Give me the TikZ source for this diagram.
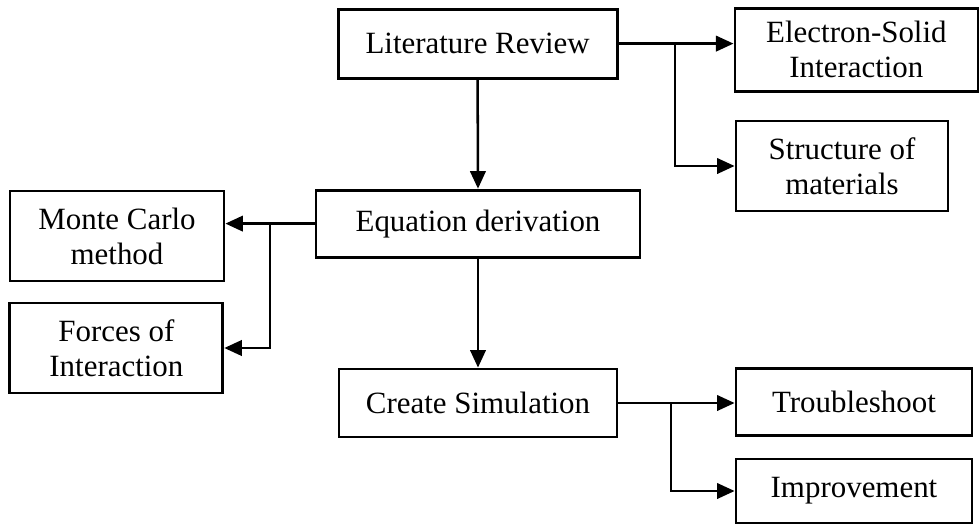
\documentclass[tikz,border=0pt]{standalone}
\usepackage{fontspec}
\setmainfont{Liberation Serif}
\usetikzlibrary{arrows.meta}
\tikzset{
	stagebox/.style={draw, line width=2pt, inner sep=0pt, align=center,
		font=\fontsize{22}{25}\selectfont},
	flowarrow/.style={line width=1.8pt, -{Triangle[length=12.5pt,width=11pt]}}
}
\begin{document}
\begin{tikzpicture}
		\useasboundingbox (0,0) rectangle (24.5,-13.125);
		\node[stagebox, minimum width=6.975cm, minimum height=1.725cm] (lit) at (11.94,-1.09) {Literature Review};
		\node[stagebox, minimum width=6.075cm, minimum height=2.075cm] (elec) at (21.41,-1.24) {Electron-Solid\\Interaction};
		\node[stagebox, minimum width=5.3cm, minimum height=2.25cm] (struct) at (21.05,-4.15) {Structure of\\materials};
		\node[stagebox, minimum width=8.1cm, minimum height=1.675cm] (eq) at (11.95,-5.59) {Equation derivation};
		\node[stagebox, minimum width=5.35cm, minimum height=2.25cm] (mc) at (2.925,-5.9) {Monte Carlo\\method};
		\node[stagebox, minimum width=5.325cm, minimum height=2.25cm] (forces) at (2.91,-8.7) {Forces of\\Interaction};
		\node[stagebox, minimum width=6.95cm, minimum height=1.7cm] (sim) at (11.95,-10.075) {Create Simulation};
		\node[stagebox, minimum width=5.9cm, minimum height=1.675cm] (trouble) at (21.35,-10.04) {Troubleshoot};
		\node[stagebox, minimum width=5.9cm, minimum height=1.6cm] (improve) at (21.35,-12.275) {Improvement};
		\coordinate (splitA) at (16.875,-1.09);
		\coordinate (splitB) at (6.75,-5.59);
		\coordinate (splitC) at (16.775,-10.075);
		\draw[flowarrow] (lit.east) -- (lit.east -| elec.west);
		\draw[flowarrow] (splitA) |- (struct.west);
		\draw[flowarrow] (lit.south) -- (eq.north);
		\draw[flowarrow] (eq.west) -- (eq.west -| mc.east);
		\draw[flowarrow] (splitB) |- (forces.east);
		\draw[flowarrow] (eq.south) -- (sim.north);
		\draw[flowarrow] (sim.east) -- (sim.east -| trouble.west);
		\draw[flowarrow] (splitC) |- (improve.west);
	\end{tikzpicture}
\end{document}
